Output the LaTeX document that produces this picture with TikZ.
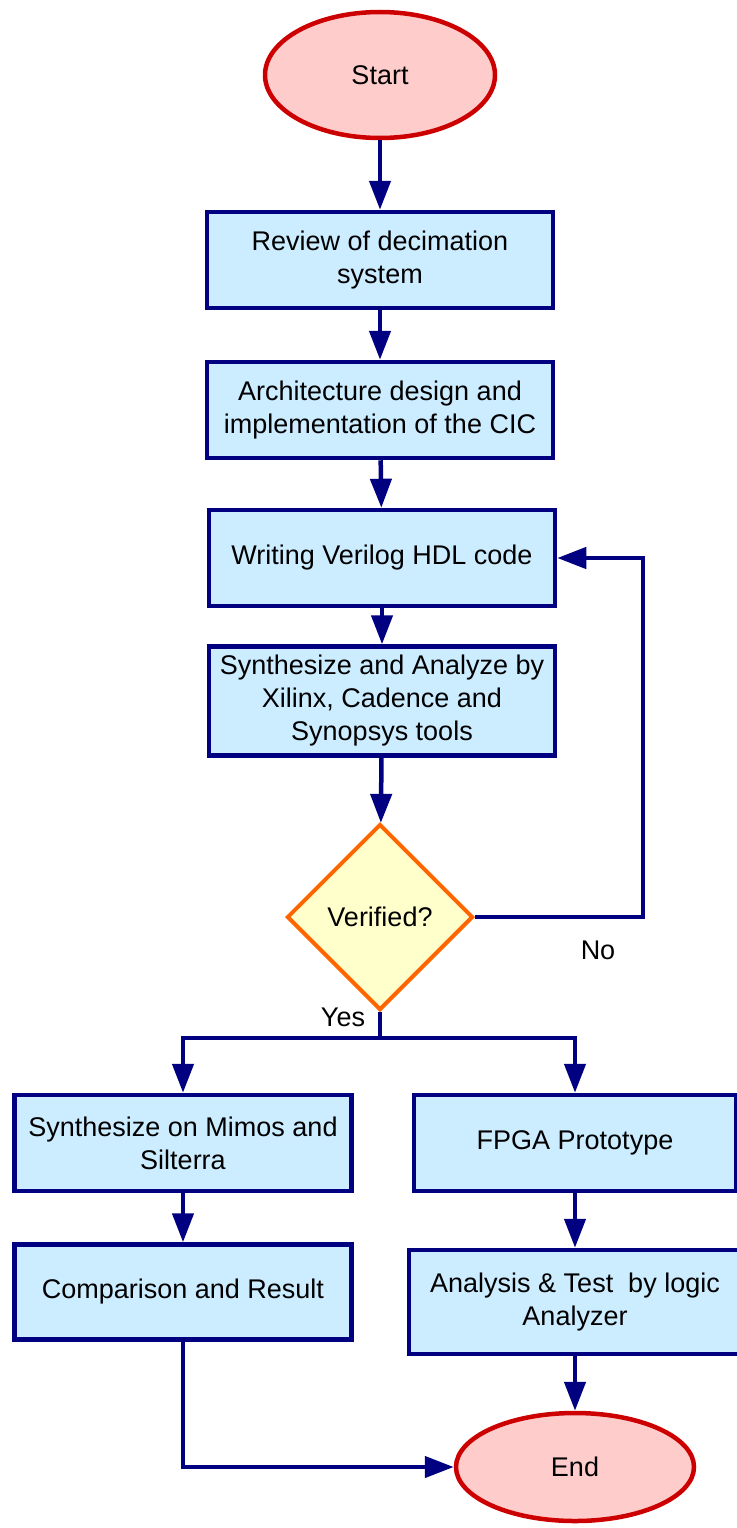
\documentclass[tikz,border=0pt]{standalone}
\usepackage{fontspec}
\setmainfont{Liberation Sans}
\usetikzlibrary{shapes.geometric,arrows.meta}
\definecolor{boxfill}{RGB}{204,236,255}
\definecolor{navyline}{RGB}{0,0,128}
\definecolor{endfill}{RGB}{255,204,204}
\definecolor{endline}{RGB}{204,0,0}
\definecolor{askfill}{RGB}{255,255,204}
\definecolor{askline}{RGB}{255,102,0}
\begin{document}
\begin{tikzpicture}[x=1pt,y=-1pt,
  font=\fontsize{27}{33}\selectfont,
  stepbox/.style={rectangle,draw=navyline,fill=boxfill,line width=4.5pt,inner sep=0pt,align=center},
  term/.style={ellipse,draw=endline,fill=endfill,line width=4.5pt,inner sep=0pt},
  ask/.style={diamond,draw=askline,fill=askfill,line width=4pt,inner sep=0pt,minimum width=186pt,minimum height=186pt},
  flow/.style={draw=navyline,line width=4.5pt,-{Triangle[length=29pt,width=21pt]}},
  wire/.style={draw=navyline,line width=4.5pt}]
\useasboundingbox (0,0) rectangle (736,1528);
% main column
\node[term,minimum width=230pt,minimum height=126pt] (start) at (380,75) {Start};
\node[stepbox,minimum width=346pt,minimum height=96pt] (review) at (380,260) {Review of decimation\\system};
\node[stepbox,minimum width=346pt,minimum height=96pt] (arch) at (380,410) {Architecture design and\\implementation of the CIC};
\node[stepbox,minimum width=346pt,minimum height=96pt] (verilog) at (382,558) {Writing Verilog HDL code};
\node[stepbox,minimum width=346pt,minimum height=109pt] (synth) at (382,701) {Synthesize and Analyze by\\Xilinx, Cadence and\\Synopsys tools};
\node[ask] (verify) at (380,917) {Verified?};
\node (yes) at (343,1017) {Yes};
\node (no) at (598,950) {No};
% two branches
\node[stepbox,minimum width=337pt,minimum height=96pt] (mimos) at (183,1143) {Synthesize on Mimos and\\Silterra};
\node[stepbox,minimum width=322pt,minimum height=96pt] (fpga) at (575,1143) {FPGA Prototype};
\node[stepbox,minimum width=337pt,minimum height=95pt] (compare) at (183,1292) {Comparison and Result};
\node[stepbox,minimum width=332pt,minimum height=104pt] (logic) at (575,1302) {Analysis \& Test\ \ by logic\\Analyzer};
\node[term,minimum width=238pt,minimum height=108pt] (end) at (575,1467) {End};
\coordinate (loop) at (643,917);
\coordinate (split) at (380,1038);
\draw[flow] (start) -- (review);
\draw[flow] (review) -- (arch);
\draw[flow] (arch) -- (verilog);
\draw[flow] (verilog) -- (synth);
\draw[flow] (synth) -- (verify);
\draw[flow] (verify.east) -- (loop) |- (verilog.east);
\draw[wire] (verify.south) -- (split);
\draw[flow] (split) -| (mimos.north);
\draw[flow] (split) -| (fpga.north);
\draw[flow] (mimos) -- (compare);
\draw[flow] (fpga) -- (logic);
\draw[flow] (logic) -- (end);
\draw[flow] (compare.south) |- (end.west);
\end{tikzpicture}
\end{document}
